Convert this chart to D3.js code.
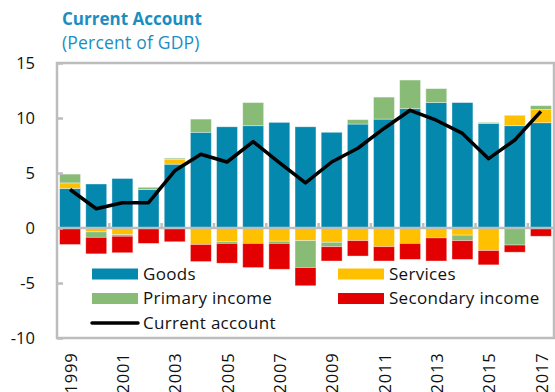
<!DOCTYPE html>
<html>
<head>
<meta charset="utf-8">
<script src="https://cdn.jsdelivr.net/npm/d3@7"></script>
<style>
  html, body { margin: 0; padding: 0; background: #fff; }
  svg { display: block; font-family: "Open Sans", "Noto Sans", sans-serif; }
</style>
</head>
<body>
<svg id="chart" width="555" height="392"></svg>
<script>
// Current account components, percent of GDP
const years = ["1999","2000","2001","2002","2003","2004","2005","2006","2007","2008",
               "2009","2010","2011","2012","2013","2014","2015","2016","2017"];
const goods     = [3.6, 4.0, 4.5, 3.5, 5.8, 8.7, 9.2, 9.3, 9.6, 9.2, 8.7, 9.45, 9.9, 10.85, 11.4, 11.4, 9.5, 9.3, 9.57];
const services  = [0.5, -0.35, -0.6, -0.05, 0.45, -1.5, -1.25, -1.4, -1.2, -1.15, -1.3, -1.15, -1.7, -1.4, -0.9, -0.65, -2.05, 0.95, 1.2];
const primary   = [0.8, -0.5, -0.15, 0.2, 0.1, 1.2, -0.15, 2.1, -0.2, -2.45, -0.4, 0.4, 2.0, 2.6, 1.27, -0.5, 0.1, -1.55, 0.35];
const secondary = [-1.5, -1.5, -1.5, -1.35, -1.25, -1.55, -1.8, -2.2, -2.35, -1.65, -1.3, -1.4, -1.3, -1.45, -2.1, -1.7, -1.3, -0.65, -0.75];
const current   = [3.5, 1.75, 2.3, 2.3, 5.2, 6.7, 6.0, 7.85, 5.95, 4.1, 6.0, 7.25, 9.05, 10.7, 9.8, 8.6, 6.3, 8.0, 10.6];
const yTicks = [-10, -5, 0, 5, 10, 15];
const yearLabels = years.filter((d, i) => i % 2 === 0);

const seriesKeys = ["goods", "services", "primary", "secondary"];
const seriesNames = { goods: "Goods", services: "Services", primary: "Primary income", secondary: "Secondary income" };
const colors = { goods: "#0588ae", services: "#ffc000", primary: "#88bb76", secondary: "#e30000" };

const rows = years.map((yr, i) => ({
  year: yr, goods: goods[i], services: services[i], primary: primary[i], secondary: secondary[i], current: current[i]
}));

const svg = d3.select("#chart");
const plotLeft = 57, plotRight = 554, plotTop = 63, plotBottom = 338;
const blue = "#1a8ec2";
const textFont = "'Open Sans', 'Noto Sans', sans-serif";

const x = d3.scaleBand().domain(years).range([plotLeft, plotRight]).paddingInner(0.2).paddingOuter(0.1);
const y = d3.scaleLinear().domain([-10, 15]).range([plotBottom, plotTop]);

// Title
svg.append("text").attr("x", 62).attr("y", 25)
  .attr("font-size", 17).attr("font-weight", 700).attr("fill", blue)
  .text("Current Account");
svg.append("text").attr("x", 62).attr("y", 49)
  .attr("font-size", 17.5).attr("letter-spacing", 0.2).attr("fill", blue)
  .text("(Percent of GDP)");

// Stacked bars, positives upward and negatives downward from zero
const stacked = d3.stack().keys(seriesKeys).offset(d3.stackOffsetDiverging)(rows);
svg.append("g").selectAll("g").data(stacked).join("g")
  .attr("fill", d => colors[d.key])
  .selectAll("rect").data(d => d).join("rect")
  .attr("x", d => x(d.data.year))
  .attr("width", x.bandwidth())
  .attr("y", d => y(Math.max(d[0], d[1])))
  .attr("height", d => Math.abs(y(d[0]) - y(d[1])))
  .attr("stroke", "rgba(255,255,255,0.45)")
  .attr("stroke-width", 0.8);

// Plot frame
const frame = "#bdbdbd";
svg.append("rect").attr("x", plotLeft).attr("y", plotTop)
  .attr("width", plotRight - plotLeft).attr("height", plotBottom - plotTop)
  .attr("fill", "none").attr("stroke", frame).attr("stroke-width", 2.5);

// Zero line with category ticks every two years
svg.append("line").attr("x1", plotLeft).attr("x2", plotRight)
  .attr("y1", y(0)).attr("y2", y(0))
  .attr("stroke", frame).attr("stroke-width", 2.5);
const gap = x.step() - x.bandwidth();
svg.append("g").selectAll("line").data(years.filter((d, i) => i % 2 === 1))
  .join("line")
  .attr("x1", d => x(d) + x.bandwidth() + gap / 2)
  .attr("x2", d => x(d) + x.bandwidth() + gap / 2)
  .attr("y1", y(0)).attr("y2", y(0) - 5)
  .attr("stroke", frame).attr("stroke-width", 2.5);

// Y axis ticks and labels (plain hyphen for negatives)
const yAxis = d3.axisLeft(y).tickValues(yTicks).tickSize(-6).tickPadding(22)
  .tickFormat(d => String(d));
const yg = svg.append("g").attr("transform", `translate(${plotLeft},0)`).call(yAxis);
yg.select(".domain").remove();
yg.selectAll(".tick line").attr("stroke", frame).attr("stroke-width", 2.5);
yg.selectAll(".tick text").attr("font-size", 16.5).attr("fill", "#111")
  .attr("font-family", textFont);

// Year labels, rotated
const xAxis = d3.axisBottom(x).tickValues(yearLabels).tickSize(0).tickPadding(0);
const xg = svg.append("g").attr("transform", `translate(0,${plotBottom})`).call(xAxis);
xg.select(".domain").remove();
xg.selectAll(".tick text")
  .attr("font-size", 16.5).attr("letter-spacing", 0.8).attr("fill", "#111")
  .attr("font-family", textFont)
  .attr("transform", "rotate(-90)")
  .attr("x", -14.5).attr("y", 1).attr("dy", "0.35em")
  .attr("text-anchor", "end");

// Current account line
const line = d3.line().x(d => x(d.year) + x.bandwidth() / 2).y(d => y(d.current));
svg.append("path").datum(rows).attr("d", line)
  .attr("fill", "none").attr("stroke", "#000").attr("stroke-width", 3.5)
  .attr("stroke-linejoin", "round");

// Legend
const legendItems = [
  { key: "goods", col: 0, row: 0 },
  { key: "services", col: 1, row: 0 },
  { key: "primary", col: 0, row: 1 },
  { key: "secondary", col: 1, row: 1 }
];
const colX = [92, 338], rowY = [274, 298.5, 323];
const lg = svg.append("g");
legendItems.forEach(it => {
  lg.append("rect").attr("x", colX[it.col]).attr("y", rowY[it.row] - 5.5)
    .attr("width", 46).attr("height", 11).attr("fill", colors[it.key]);
  lg.append("text").attr("x", colX[it.col] + 51).attr("y", rowY[it.row])
    .attr("dy", "0.35em").attr("font-size", 17).attr("letter-spacing", 0.3).attr("fill", "#111")
    .text(seriesNames[it.key]);
});
lg.append("line").attr("x1", 92).attr("x2", 138).attr("y1", rowY[2]).attr("y2", rowY[2])
  .attr("stroke", "#000").attr("stroke-width", 3.5).attr("stroke-linecap", "round");
lg.append("text").attr("x", 143).attr("y", rowY[2]).attr("dy", "0.35em")
  .attr("font-size", 17).attr("letter-spacing", 0.3).attr("fill", "#111").text("Current account");
</script>
</body>
</html>
